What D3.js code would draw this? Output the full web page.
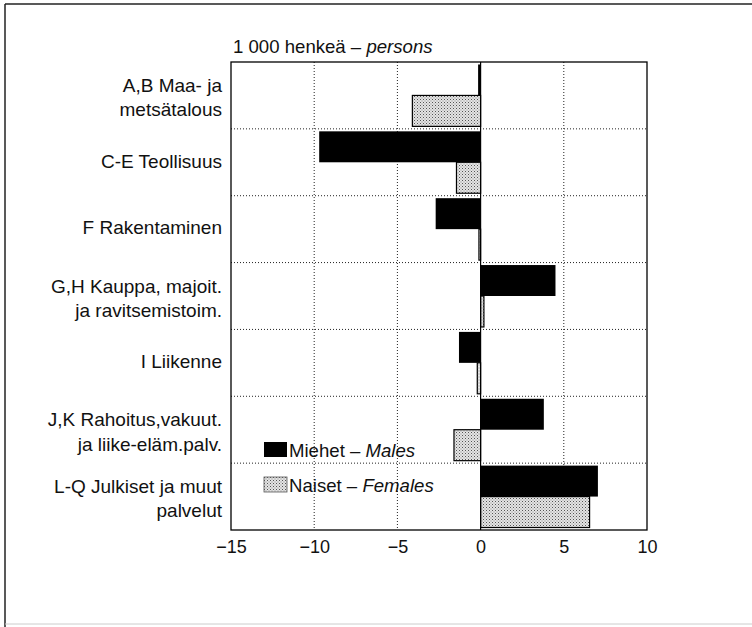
<!DOCTYPE html>
<html>
<head>
<meta charset="utf-8">
<script src="https://cdn.jsdelivr.net/npm/d3@7"></script>
<style>
  body { margin: 0; background: #fff; }
  text { font-family: "Liberation Sans", Arial, sans-serif; fill: #111; }
</style>
</head>
<body>
<script>
// categories (each split into label lines)
var categories = [
  ["A,B Maa- ja", "metsätalous"],
  ["C-E Teollisuus"],
  ["F Rakentaminen"],
  ["G,H Kauppa, majoit.", "ja ravitsemistoim."],
  ["I Liikenne"],
  ["J,K Rahoitus,vakuut.", "ja liike-eläm.palv."],
  ["L-Q Julkiset ja muut", "palvelut"]
];
var males   = [-0.15, -9.7, -2.7, 4.5, -1.3, 3.8, 7.05];
var females = [-4.1, -1.45, -0.1, 0.2, -0.2, -1.6, 6.55];
var ticks = [-15, -10, -5, 0, 5, 10];
var seriesNames = ["Miehet – ", "Naiset – "];
var seriesNamesEn = ["Males", "Females"];

var w = 752, h = 627;
var pLeft = 231, pRight = 647, pTop = 62, pBottom = 530;

var svg = d3.select("body").append("svg")
            .attr("width", w)
            .attr("height", h);

var defs = svg.append("defs");
var pat = defs.append("pattern")
              .attr("id", "dots")
              .attr("patternUnits", "userSpaceOnUse")
              .attr("width", 3)
              .attr("height", 3);
pat.append("rect").attr("width", 3).attr("height", 3).attr("fill", "#e4e4e4");
pat.append("rect").attr("x", 0).attr("y", 0).attr("width", 1).attr("height", 1).attr("fill", "#555");
pat.append("rect").attr("x", 1.5).attr("y", 1.5).attr("width", 1).attr("height", 1).attr("fill", "#888");

// outer frame (scanned page border)
svg.append("line").attr("x1", 5).attr("y1", 4).attr("x2", w).attr("y2", 4)
   .attr("stroke", "#222").attr("stroke-width", 1.5);
svg.append("line").attr("x1", 5).attr("y1", 4).attr("x2", 5).attr("y2", h)
   .attr("stroke", "#222").attr("stroke-width", 1.5);
svg.append("line").attr("x1", 5).attr("y1", 624).attr("x2", w).attr("y2", 624)
   .attr("stroke", "#ccc").attr("stroke-width", 1);

var x = d3.scaleLinear()
          .domain([-15, 10])
          .range([pLeft, pRight]);

var y = d3.scaleBand()
          .domain(d3.range(categories.length))
          .range([pTop, pBottom]);

var inner = d3.scaleBand()
              .domain([0, 1])
              .range([0, y.bandwidth()])
              .paddingOuter(0.08)
              .paddingInner(0);

// grid
var g = svg.append("g");
g.selectAll(".vgrid")
 .data(ticks.filter(function(t){ return t !== 0 && t !== -15 && t !== 10; }))
 .enter()
 .append("line")
 .attr("x1", function(d){ return x(d); })
 .attr("x2", function(d){ return x(d); })
 .attr("y1", pTop)
 .attr("y2", pBottom)
 .attr("stroke", "#222")
 .attr("stroke-width", 1)
 .attr("stroke-dasharray", "1,2");

g.selectAll(".hgrid")
 .data(d3.range(1, categories.length))
 .enter()
 .append("line")
 .attr("x1", pLeft)
 .attr("x2", pRight)
 .attr("y1", function(d){ return y(d); })
 .attr("y2", function(d){ return y(d); })
 .attr("stroke", "#222")
 .attr("stroke-width", 1)
 .attr("stroke-dasharray", "1,2");

// bars
var rows = categories.map(function(c, i){
  return { i: i, m: males[i], f: females[i] };
});

svg.selectAll(".male")
   .data(rows)
   .enter()
   .append("rect")
   .attr("x", function(d){ return x(Math.min(0, d.m)); })
   .attr("width", function(d){ return Math.abs(x(d.m) - x(0)); })
   .attr("y", function(d){ return y(d.i) + inner(0); })
   .attr("height", inner.bandwidth())
   .attr("fill", "#000");

svg.selectAll(".female")
   .data(rows)
   .enter()
   .append("rect")
   .attr("x", function(d){ return x(Math.min(0, d.f)); })
   .attr("width", function(d){ return Math.abs(x(d.f) - x(0)); })
   .attr("y", function(d){ return y(d.i) + inner(1); })
   .attr("height", inner.bandwidth())
   .attr("fill", "url(#dots)")
   .attr("stroke", "#000")
   .attr("stroke-width", 1.2);

// zero line
svg.append("line")
   .attr("x1", x(0)).attr("x2", x(0))
   .attr("y1", pTop).attr("y2", pBottom)
   .attr("stroke", "#000").attr("stroke-width", 1.2);

// plot border
svg.append("rect")
   .attr("x", pLeft).attr("y", pTop)
   .attr("width", pRight - pLeft).attr("height", pBottom - pTop)
   .attr("fill", "none")
   .attr("stroke", "#000")
   .attr("stroke-width", 1.3);

// x axis labels
var axis = d3.axisBottom(x).tickValues(ticks).tickSize(0).tickPadding(10);
var ax = svg.append("g")
            .attr("transform", "translate(0," + pBottom + ")")
            .call(axis);
ax.select(".domain").remove();
ax.selectAll("text")
  .style("font-family", "'Liberation Sans', Arial, sans-serif")
  .style("font-size", "18px")
  .attr("fill", "#111");

// category labels
var lab = svg.selectAll(".cat")
             .data(categories)
             .enter()
             .append("text")
             .attr("text-anchor", "end")
             .style("font-size", "19px")
             .attr("y", function(d, i){ return y(i) + y.bandwidth() / 2; });

lab.each(function(d){
  var t = d3.select(this);
  var n = d.length;
  d.forEach(function(line, k){
    t.append("tspan")
     .attr("x", 222)
     .attr("dy", k === 0 ? (n > 1 ? "-0.17em" : "0.28em") : "1.27em")
     .text(line);
  });
});

// unit title
var title = svg.append("text")
               .attr("x", 233)
               .attr("y", 53)
               .style("font-size", "18.6px");
title.append("tspan").text("1 000 henkeä – ");
title.append("tspan").style("font-style", "italic").text("persons");

// legend
var leg = svg.selectAll(".leg")
             .data(seriesNames)
             .enter()
             .append("g")
             .attr("transform", function(d, i){ return "translate(264," + (442 + i * 35) + ")"; });

leg.append("rect")
   .attr("width", 23)
   .attr("height", 15)
   .attr("fill", function(d, i){ return i === 0 ? "#000" : "url(#dots)"; })
   .attr("stroke", function(d, i){ return i === 0 ? "none" : "#555"; })
   .attr("stroke-width", 0.8);

var lt = leg.append("text")
            .attr("x", 25)
            .attr("y", 15)
            .style("font-size", "18.6px");
lt.append("tspan").text(function(d){ return d; });
lt.append("tspan").style("font-style", "italic").text(function(d, i){ return seriesNamesEn[i]; });
</script>
</body>
</html>
